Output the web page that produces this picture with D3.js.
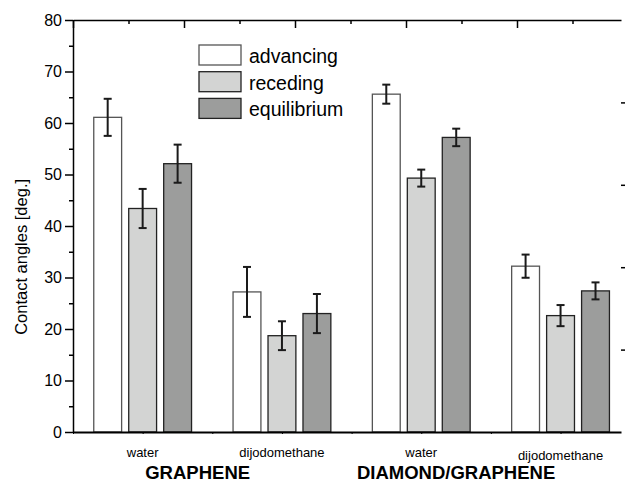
<!DOCTYPE html>
<html>
<head>
<meta charset="utf-8">
<script src="https://cdn.jsdelivr.net/npm/d3@7"></script>
<style>
  body { margin: 0; background: #fff; }
  text { font-family: "Liberation Sans", Arial, sans-serif; }
</style>
</head>
<body>
<div id="chart"></div>
<script>
// ------------------------------------------------------
// Data
const categories = ['water', 'dijodomethane', 'water', 'dijodomethane']
const groups = ['GRAPHENE', 'DIAMOND/GRAPHENE']
const seriesNames = ['advancing', 'receding', 'equilibrium']

const advancing = [61.1, 27.2, 65.6, 32.2]
const advancingErr = [3.6, 4.85, 1.85, 2.25]
const receding = [43.4, 18.7, 49.3, 22.6]
const recedingErr = [3.8, 2.8, 1.65, 2.05]
const equilibrium = [52.1, 23.0, 57.2, 27.4]
const equilibriumErr = [3.7, 3.8, 1.7, 1.65]

const yTicks = [0, 10, 20, 30, 40, 50, 60, 70, 80]
const yMinorTicks = [5, 15, 25, 35, 45, 55, 65, 75]

// ------------------------------------------------------
// Size and layout
const width = 625
const height = 484
const plotLeft = 73, plotRight = 621, plotTop = 20, plotBottom = 432

const colors = ['#ffffff', '#d3d4d3', '#9c9d9c']
const strokes = ['#555', '#222', '#222']

const svg = d3.select('#chart')
  .append('svg')
  .attr('width', width)
  .attr('height', height)

// ------------------------------------------------------
// Scales
const y = d3.scaleLinear().domain([0, 80]).range([plotBottom, plotTop])
// categories sit at 1, 2, 3, 4
const x = d3.scaleLinear().domain([0.5, 0.5 + (plotRight - plotLeft) / 139.3]).range([plotLeft, plotRight])
// top and right axes are just tick frames
const xTop = d3.scaleLinear().domain([0, (plotRight - plotLeft) / 111]).range([plotLeft, plotRight])
const yRight = d3.scaleLinear().domain([0, 5]).range([plotBottom, plotTop])

const values = [advancing, receding, equilibrium]
const errors = [advancingErr, recedingErr, equilibriumErr]
const barW = x(0.7) - x(0.5)

const rows = []
categories.forEach((c, i) => {
  seriesNames.forEach((s, j) => {
    rows.push({ cat: i + 1, s: j, v: values[j][i], e: errors[j][i] })
  })
})
const cx = d => x(d.cat + (d.s - 1) * 0.251)

// ------------------------------------------------------
// Bars
svg.append('g')
  .selectAll('rect')
  .data(rows)
  .enter()
  .append('rect')
  .attr('x', d => cx(d) - barW / 2)
  .attr('y', d => y(d.v))
  .attr('width', barW)
  .attr('height', d => y(0) - y(d.v))
  .attr('fill', d => colors[d.s])
  .attr('stroke', d => strokes[d.s])
  .attr('stroke-width', 1.3)

// Error bars
const err = svg.append('g')
  .attr('stroke', '#1a1a1a')
  .attr('stroke-width', 2)
err.selectAll('.v')
  .data(rows)
  .enter()
  .append('line')
  .attr('x1', cx).attr('x2', cx)
  .attr('y1', d => y(d.v + d.e)).attr('y2', d => y(d.v - d.e))
err.selectAll('.cap')
  .data(rows.flatMap(d => [{ d, v: d.v + d.e }, { d, v: d.v - d.e }]))
  .enter()
  .append('line')
  .attr('x1', p => cx(p.d) - 4).attr('x2', p => cx(p.d) + 4)
  .attr('y1', p => y(p.v)).attr('y2', p => y(p.v))

// ------------------------------------------------------
// Axes
const yAxis = svg.append('g')
  .attr('transform', `translate(${plotLeft},0)`)
  .call(d3.axisLeft(y).tickValues(yTicks).tickSize(8).tickPadding(3).tickSizeOuter(0))
yAxis.selectAll('text').attr('font-size', 16).attr('fill', '#000')
  .style('font-family', '"Liberation Sans", Arial, sans-serif')
yAxis.selectAll('line, path').attr('stroke', '#000').attr('stroke-width', 1.5)

svg.append('g')
  .attr('transform', `translate(${plotLeft},0)`)
  .call(d3.axisLeft(y).tickValues(yMinorTicks).tickSize(4).tickFormat(''))
  .call(g => g.select('.domain').remove())
  .selectAll('line').attr('stroke-width', 1.5)

const xAxis = svg.append('g')
  .attr('transform', `translate(0,${plotBottom})`)
  .call(d3.axisBottom(x).tickValues([0.5, 1, 1.5, 2, 2.5, 3, 3.5, 4]).tickSize(2).tickSizeOuter(0).tickFormat(''))
xAxis.select('.domain').attr('stroke-width', 2)

svg.append('g')
  .attr('transform', `translate(0,${plotTop})`)
  .call(d3.axisTop(xTop).tickValues([0, 1, 2, 3, 4]).tickSize(-8).tickSizeOuter(0).tickFormat(''))
  .call(g => g.select('.domain').attr('stroke-width', 1.5))
  .selectAll('line').attr('stroke-width', 1.5)
svg.append('g')
  .attr('transform', `translate(0,${plotTop})`)
  .call(d3.axisTop(xTop).tickValues([0.5, 1.5, 2.5, 3.5, 4.5]).tickSize(-4).tickFormat(''))
  .call(g => g.select('.domain').remove())
  .selectAll('line').attr('stroke-width', 1.5)

svg.append('g')
  .attr('transform', `translate(${plotRight},0)`)
  .call(d3.axisRight(yRight).tickValues([1, 2, 3, 4]).tickSize(4).tickFormat(''))
  .call(g => g.select('.domain').remove())
  .selectAll('line').attr('stroke-width', 1.5)

// Category labels
svg.append('g')
  .selectAll('text')
  .data(categories)
  .enter()
  .append('text')
  .attr('x', (d, i) => x(i + 1))
  .attr('y', (d, i) => i === 3 ? 460 : 457)
  .attr('text-anchor', 'middle')
  .attr('font-size', 13)
  .text(d => d)

// Group labels
const groupPos = [1.395, 3.25]
svg.append('g')
  .selectAll('text')
  .data(groups)
  .enter()
  .append('text')
  .attr('x', (d, i) => x(groupPos[i]))
  .attr('y', 479)
  .attr('text-anchor', 'middle')
  .attr('font-size', 18.5)
  .attr('font-weight', 'bold')
  .text(d => d)

// Y title
svg.append('text')
  .attr('transform', `translate(27,${y(34)}) rotate(-90)`)
  .attr('text-anchor', 'middle')
  .attr('font-size', 16.5)
  .text('Contact angles [deg.]')

// ------------------------------------------------------
// Legend
const legend = svg.append('g')
  .attr('transform', 'translate(199,45)')
const item = legend.selectAll('g')
  .data(seriesNames)
  .enter()
  .append('g')
  .attr('transform', (d, i) => `translate(0,${i * 26.7})`)
item.append('rect')
  .attr('width', 42)
  .attr('height', 20)
  .attr('fill', (d, i) => colors[i])
  .attr('stroke', (d, i) => strokes[i])
  .attr('stroke-width', 1.3)
item.append('text')
  .attr('x', 50)
  .attr('y', 18)
  .attr('font-size', 19.5)
  .text(d => d)
</script>
</body>
</html>
